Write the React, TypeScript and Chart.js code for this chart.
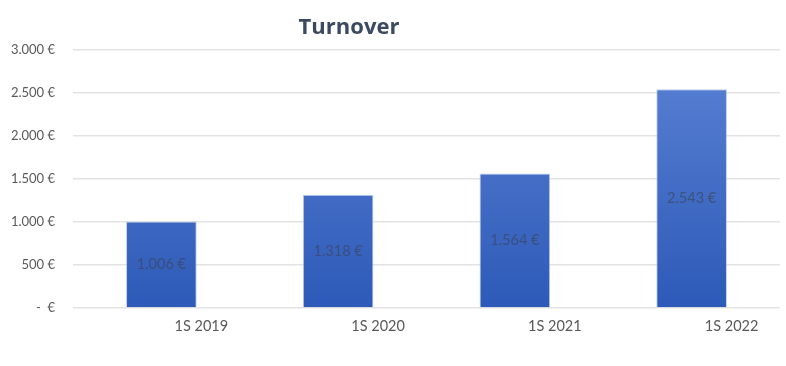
import React, { useEffect, useRef } from "react";
import { Chart, registerables } from "chart.js";

Chart.register(...registerables);

const categories = ["1S 2019", "1S 2020", "1S 2021", "1S 2022"];
const turnover = [1006, 1318, 1564, 2543];
const titleText = "Turnover";

const fmt = (v: number) => {
  if (v === 0) return "-  €";
  return v.toLocaleString("de-DE") + " €";
};

export default function App() {
  const ref = useRef<HTMLCanvasElement | null>(null);
  useEffect(() => {
    const canvas = ref.current!;
    const valueLabels = {
      id: "valueLabels",
      afterDatasetsDraw(chart: any) {
        const ctx = chart.ctx;
        const meta = chart.getDatasetMeta(0);
        ctx.save();
        ctx.font = "14.5px Lato, 'Noto Sans', sans-serif";
        ctx.fillStyle = "rgba(60,65,80,0.6)";
        ctx.textAlign = "center";
        ctx.textBaseline = "middle";
        meta.data.forEach((bar: any, i: number) => {
          const y = (bar.y + bar.base) / 2;
          ctx.fillText(fmt(turnover[i]), bar.x, y);
        });
        ctx.restore();
      },
    };
    const titlePlugin = {
      id: "customTitle",
      afterDraw(chart: any) {
        const ctx = chart.ctx;
        ctx.save();
        ctx.font = "bold 22px 'Open Sans', 'Noto Sans', sans-serif";
        ctx.fillStyle = "#3b4a61";
        ctx.textAlign = "center";
        ctx.textBaseline = "middle";
        ctx.fillText(titleText, 349, 28);
        ctx.restore();
      },
    };
    const chart = new Chart(canvas, {
      type: "bar",
      data: {
        labels: categories,
        datasets: [
          {
            label: titleText,
            data: turnover,
            backgroundColor: (c: any) => {
              const area = c.chart.chartArea;
              if (!area) return "#4472c4";
              const g = c.chart.ctx.createLinearGradient(0, area.top, 0, area.bottom);
              g.addColorStop(0, "#5b82d4");
              g.addColorStop(1, "#2d5ab8");
              return g;
            },
            borderColor: "rgba(170,190,230,0.7)",
            borderWidth: 1,
            barPercentage: 0.4,
            categoryPercentage: 1,
          },
        ],
      },
      options: {
        animation: false,
        responsive: true,
        maintainAspectRatio: false,
        layout: { padding: { left: 0, right: 6, top: 50, bottom: 0 } },
        plugins: {
          legend: { display: false },
          title: { display: false },
          tooltip: { enabled: false },
        },
        scales: {
          x: {
            grid: { display: false, drawTicks: false },
            border: { display: false },
            ticks: {
              labelOffset: 40,
              padding: 10,
              color: "#595959",
              font: { family: "Lato, 'Noto Sans', sans-serif", size: 14.5 },
            },
            afterFit: (s: any) => {
              s.height = 58;
            },
          },
          y: {
            min: 0,
            max: 3000,
            ticks: {
              stepSize: 500,
              padding: 18,
              color: "#595959",
              font: { family: "Lato, 'Noto Sans', sans-serif", size: 13 },
              callback: (v: any) => fmt(Number(v)),
            },
            grid: { color: "#e3e3e3", drawTicks: false, lineWidth: 1.5 },
            border: { display: false },
            afterFit: (s: any) => {
              s.width = 73;
            },
          },
        },
      },
      plugins: [valueLabels, titlePlugin],
    });
    return () => chart.destroy();
  }, []);
  return (
    <div
      style={{
        position: "fixed",
        left: 0,
        top: 0,
        width: 786,
        height: 366,
        background: "#ffffff",
      }}
    >
      <canvas ref={ref} />
    </div>
  );
}
